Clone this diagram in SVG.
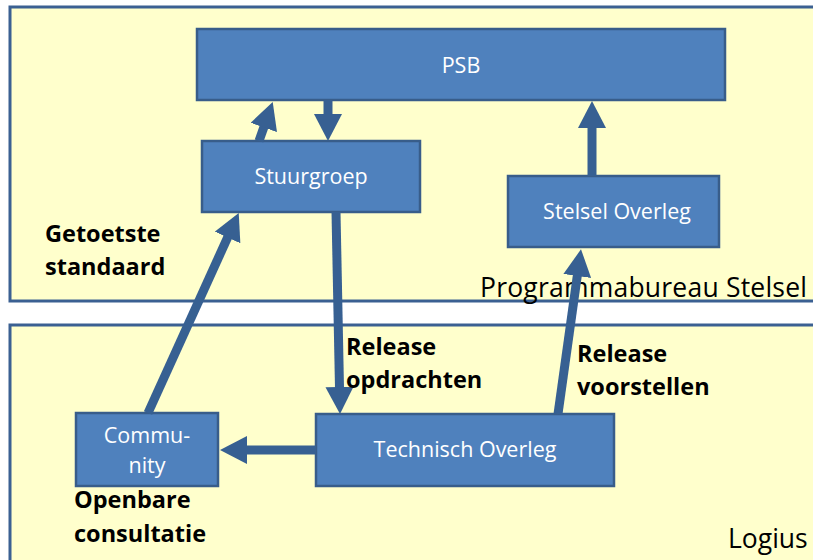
<svg xmlns="http://www.w3.org/2000/svg" width="813" height="560" viewBox="0 0 813 560">
<style>
.panel{fill:#FFFFCC;stroke:#3B6092;stroke-width:3}
.node rect{fill:#4F81BD;stroke:#385D8A;stroke-width:2.5}
.node text{fill:#FFFFFF;font-family:"Open Sans","Liberation Sans",sans-serif;font-size:21.5px;text-anchor:middle}
.lbl{fill:#000;font-family:"Open Sans","Liberation Sans",sans-serif;font-size:23.5px;font-weight:bold}
.title{fill:#000;font-family:"Open Sans","Liberation Sans",sans-serif;font-size:26.5px}
.conn line{stroke:#376092;stroke-width:9;fill:none}
</style>
<defs>
<marker id="ah" viewBox="0 0 27 28" markerWidth="27" markerHeight="28" refX="1" refY="14" orient="auto" markerUnits="userSpaceOnUse">
<path d="M0,0 L27,14 L0,28 z" fill="#376092"/>
</marker>
</defs>
<rect width="813" height="560" fill="#FFFFFF"/>
<g id="panel-programmabureau">
<rect class="panel" x="10" y="7" width="820" height="294"/>
<text class="title" x="480" y="297" textLength="327" lengthAdjust="spacing">Programmabureau Stelsel</text>
</g>
<g id="panel-logius">
<rect class="panel" x="10" y="325" width="820" height="260"/>
<text class="title" x="728" y="548">Logius</text>
</g>
<g id="PSB" class="node">
<rect x="197" y="29" width="528" height="71"/>
<text x="461" y="73">PSB</text>
</g>
<g id="Stuurgroep" class="node">
<rect x="202" y="141" width="218" height="71"/>
<text x="311" y="184">Stuurgroep</text>
</g>
<g id="StelselOverleg" class="node">
<rect x="508" y="176" width="211" height="71"/>
<text x="617" y="219">Stelsel Overleg</text>
</g>
<g id="TechnischOverleg" class="node">
<rect x="316" y="414" width="298" height="72"/>
<text x="465" y="457">Technisch Overleg</text>
</g>
<g id="Community" class="node">
<rect x="76" y="413" width="142" height="73"/>
<text x="147" y="443">Commu-</text>
<text x="147" y="473">nity</text>
</g>
<g id="connectors" class="conn">
<line x1="259" y1="141" x2="264.1" y2="126.5" marker-end="url(#ah)"/>
<line x1="328" y1="100" x2="328" y2="115" marker-end="url(#ah)"/>
<line x1="592" y1="176" x2="592" y2="127" marker-end="url(#ah)"/>
<line x1="558" y1="414" x2="577.4" y2="275" marker-end="url(#ah)"/>
<line x1="336" y1="212" x2="339.5" y2="388" marker-end="url(#ah)"/>
<line x1="316" y1="450" x2="246" y2="450" marker-end="url(#ah)"/>
<line x1="148" y1="413" x2="228" y2="236.6" marker-end="url(#ah)"/>
</g>
<g id="labels">
<text class="lbl" x="45" y="242">Getoetste</text>
<text class="lbl" x="45" y="275">standaard</text>
<text class="lbl" x="346" y="355">Release</text>
<text class="lbl" x="346" y="388">opdrachten</text>
<text class="lbl" x="577" y="362">Release</text>
<text class="lbl" x="577" y="395">voorstellen</text>
<text class="lbl" x="74" y="508">Openbare</text>
<text class="lbl" x="74" y="542">consultatie</text>
</g>
</svg>
